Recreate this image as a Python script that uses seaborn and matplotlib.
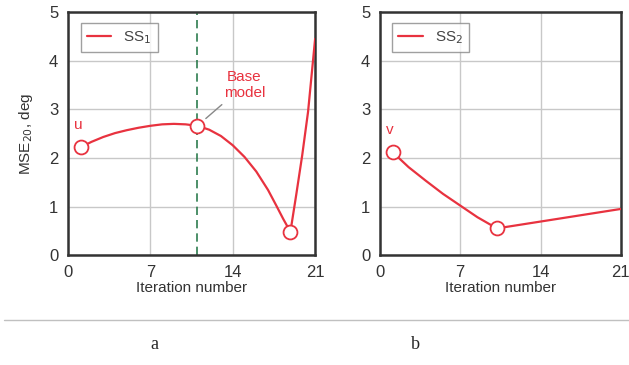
import matplotlib
matplotlib.use("Agg")
import matplotlib.pyplot as plt
import numpy as np
import pandas as pd
import seaborn as sns

sns.set_theme(style="whitegrid")
plt.rcParams['font.family'] = ['Liberation Sans', 'DejaVu Sans']

# curve SS1
ss1_x = [1.1, 2, 3, 4, 5, 6, 7, 8, 9, 10, 11, 12, 13, 14, 15, 16, 17, 17.7, 18.3, 18.9,
         19.4, 19.9, 20.4, 21]
ss1_y = [2.22, 2.33, 2.43, 2.51, 2.57, 2.62, 2.66, 2.69, 2.70, 2.69, 2.66, 2.58, 2.45,
         2.26, 2.02, 1.72, 1.34, 1.02, 0.74, 0.48, 1.25, 2.05, 2.95, 4.45]
ss1_mark_x = [1.1, 11, 18.9]
ss1_mark_y = [2.22, 2.66, 0.48]

# curve SS2
ss2_x = [1.1, 2.5, 4, 5.5, 7, 8.5, 10.2, 21]
ss2_y = [2.12, 1.81, 1.53, 1.26, 1.02, 0.78, 0.55, 0.95]
ss2_mark_x = [1.1, 10.2]
ss2_mark_y = [2.12, 0.55]

base_iter = 11
xticks = [0, 7, 14, 21]
yticks = [0, 1, 2, 3, 4, 5]

red = "#e8323f"

fig = plt.figure(figsize=(6.29, 3.65), dpi=100)
fig.patch.set_facecolor("white")
ax1 = fig.add_axes([0.108, 0.301, 0.393, 0.666])
ax2 = fig.add_axes([0.604, 0.301, 0.383, 0.666])


def draw_panel(ax, x, y, mx, my, label, letter):
    sns.lineplot(x=x, y=y, ax=ax, color=red, lw=1.6, label=label, sort=False,
                 zorder=3)
    ax.plot(mx, my, "o", ms=10, mfc="white", mec=red, mew=1.3, zorder=4)
    ax.set_xlim(0, 21)
    ax.set_ylim(0, 5)
    ax.set_xticks(xticks)
    ax.set_yticks(yticks)
    ax.grid(True, color="#c8c8c8", lw=1.0)
    for s in ax.spines.values():
        s.set_color("#333333")
        s.set_linewidth(1.8)
    ax.tick_params(labelsize=12, colors="#333333", pad=7, length=0)
    ax.set_xlabel("Iteration number", fontsize=11, color="#333333", labelpad=1)
    leg = ax.legend(loc="upper left", fontsize=11, frameon=True, fancybox=False,
                    handlelength=1.6, borderpad=0.4, bbox_to_anchor=(0.02, 0.985))
    leg.get_frame().set_edgecolor("#888888")
    leg.get_frame().set_linewidth(1.0)
    for t in leg.get_texts():
        t.set_color("#444444")
    ax.text(mx[0] - 0.2, my[0] + 0.45, letter, color=red, fontsize=11,
            ha="center", va="center")


draw_panel(ax1, ss1_x, ss1_y, ss1_mark_x, ss1_mark_y, "SS$_1$", "u")
draw_panel(ax2, ss2_x, ss2_y, ss2_mark_x, ss2_mark_y, "SS$_2$", "v")

ax1.axvline(base_iter, color="#2e7d4f", ls=(0, (5, 3)), lw=1.2, zorder=2)
ax1.annotate("Base\nmodel", xy=(11, 2.66), xytext=(15.0, 3.5), color=red,
             fontsize=11, ha="center", va="center", linespacing=1.1,
             arrowprops=dict(arrowstyle="-", color="#888888", lw=1.0,
                             shrinkA=2, shrinkB=8))
ax1.set_ylabel("MSE$_{20}$, deg", fontsize=11, color="#333333", labelpad=10)

fig.add_artist(plt.Line2D([0.006, 1.0], [0.123, 0.123], color="#c0c0c0", lw=1.0))
fig.text(0.246, 0.055, "a", fontsize=13, family="Liberation Serif", ha="center", va="center")
fig.text(0.66, 0.055, "b", fontsize=13, family="Liberation Serif", ha="center", va="center")

fig.savefig("out.png", dpi=100)
